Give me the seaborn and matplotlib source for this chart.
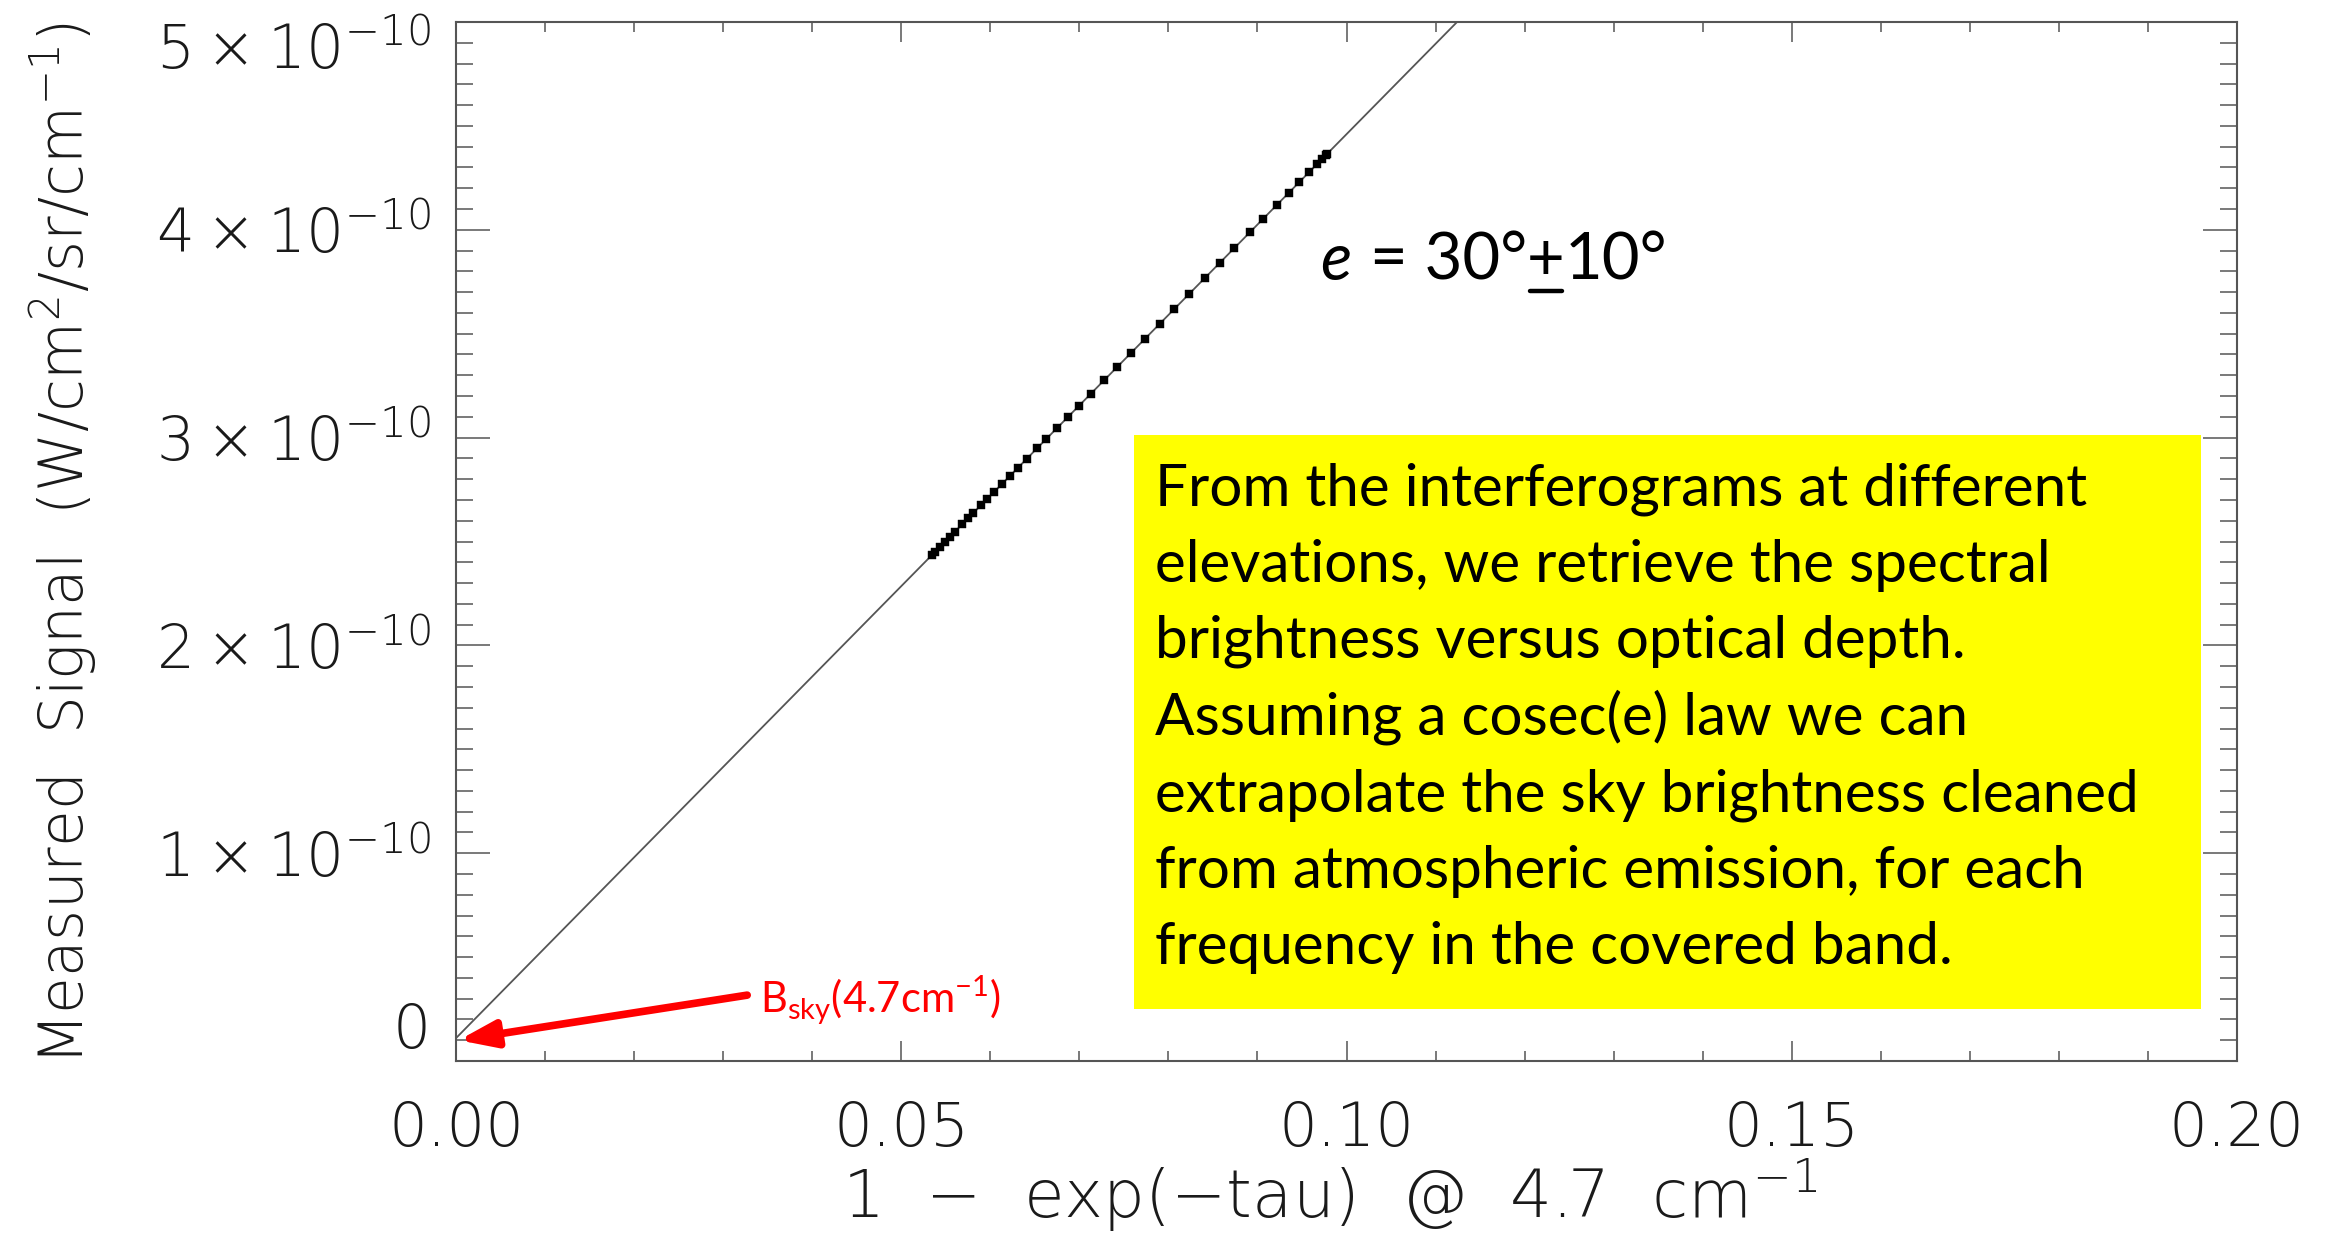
import numpy as np
import pandas as pd
import matplotlib
matplotlib.use("Agg")
import matplotlib.pyplot as plt
import seaborn as sns
from matplotlib.ticker import MultipleLocator, FixedLocator, FixedFormatter
from matplotlib.patches import Rectangle
from matplotlib.lines import Line2D

# ---------------- data ----------------
opacity = [0.09781, 0.09770, 0.09725, 0.09669, 0.09579, 0.09467, 0.09354, 0.09220,
           0.09062, 0.08916, 0.08737, 0.08579, 0.08411, 0.08231, 0.08063, 0.07906,
           0.07737, 0.07580, 0.07423, 0.07277, 0.07131, 0.06996, 0.06873, 0.06749,
           0.06625, 0.06524, 0.06412, 0.06311, 0.06221, 0.06131, 0.06042, 0.05963,
           0.05896, 0.05806, 0.05750, 0.05682, 0.05604, 0.05547, 0.05491, 0.05435,
           0.05379, 0.05345]
signal_e10 = [4.365, 4.360, 4.340, 4.316, 4.277, 4.228, 4.179, 4.121,
              4.052, 3.988, 3.911, 3.842, 3.769, 3.690, 3.617, 3.549,
              3.476, 3.407, 3.339, 3.275, 3.212, 3.153, 3.100, 3.046,
              2.992, 2.948, 2.899, 2.855, 2.816, 2.777, 2.738, 2.704,
              2.675, 2.636, 2.611, 2.582, 2.548, 2.523, 2.499, 2.474,
              2.450, 2.435]
fit_x = [0.0, 0.2]
fit_y_e10 = [0.11, 8.81]

xtick_vals = [0.00, 0.05, 0.10, 0.15, 0.20]
xtick_labels = ["0.00", "0.05", "0.10", "0.15", "0.20"]
ytick_vals = [0, 1e-10, 2e-10, 3e-10, 4e-10, 5e-10]
ytick_labels = ["0",
                "1\u2009×\u200910$^{\\mathregular{-10}}$",
                "2\u2009×\u200910$^{\\mathregular{-10}}$",
                "3\u2009×\u200910$^{\\mathregular{-10}}$",
                "4\u2009×\u200910$^{\\mathregular{-10}}$",
                "5\u2009×\u200910$^{\\mathregular{-10}}$"]

box_lines = ["From the interferograms at different",
             "elevations, we retrieve the spectral",
             "brightness versus optical depth.",
             "Assuming a cosec(e) law we can",
             "extrapolate the sky brightness cleaned",
             "from atmospheric emission, for each",
             "frequency in the covered band."]

pts = pd.DataFrame({"x": opacity, "y": np.array(signal_e10) * 1e-10})
fit = pd.DataFrame({"x": fit_x, "y": np.array(fit_y_e10) * 1e-10})

# ---------------- style ----------------
sns.set_theme(style="white")
plt.rcParams["font.family"] = ["DejaVu Sans"]
plt.rcParams["font.weight"] = "light"
plt.rcParams["axes.labelweight"] = "light"
plt.rcParams["axes.unicode_minus"] = True

W, H = 2343, 1239
fig = plt.figure(figsize=(W / 100, H / 100), dpi=100)
L, R, T, B = 456, 2237, 22, 1061
ax = fig.add_axes([L / W, 1 - B / H, (R - L) / W, (B - T) / H])

sns.lineplot(data=fit, x="x", y="y", ax=ax, color="#555555", lw=1.3, zorder=2)
sns.scatterplot(data=pts, x="x", y="y", ax=ax, marker="s", s=32, color="black",
                edgecolor="black", linewidth=0.3, zorder=3)

ax.set_xlim(0, 0.2)
ax.set_ylim(0, 5e-10)

txtcol = "#1a1a1a"
ax.xaxis.set_major_locator(FixedLocator(xtick_vals))
ax.xaxis.set_major_formatter(FixedFormatter(xtick_labels))
ax.xaxis.set_minor_locator(MultipleLocator(0.01))
ax.yaxis.set_major_locator(FixedLocator(ytick_vals))
ax.yaxis.set_major_formatter(FixedFormatter(ytick_labels))
ax.yaxis.set_minor_locator(MultipleLocator(1e-11))

ax.tick_params(which="both", direction="in", top=True, right=True, bottom=True, left=True,
               color="#555555", width=1.1, labelcolor=txtcol)
ax.tick_params(axis="x", which="major", length=14.4, pad=28, labelsize=44)
ax.tick_params(axis="x", which="minor", length=7.2)
ax.tick_params(axis="y", which="major", length=24.5, pad=18, labelsize=43)
ax.tick_params(axis="y", which="minor", length=12)

for s in ax.spines.values():
    s.set_color("#555555")
    s.set_linewidth(1.5)

ylabs = ax.get_yticklabels()
ylabs[0].set_va("bottom")
ylabs[-1].set_va("top")

ax.set_xlabel(r"1  −  exp(−tau)  @  4.7  cm$^{\mathregular{-1}}$", fontsize=47.5,
              color=txtcol, weight="light")
ax.set_ylabel(r"Measured  Signal  (W/cm$^{\mathregular{2}}$/sr/cm$^{\mathregular{-1}}$)",
              fontsize=43, color=txtcol, weight="light")
ax.yaxis.set_label_coords(63 / W, 1 - 543 / H, transform=fig.transFigure)
ax.xaxis.set_label_coords(1330 / W, 1 - 1195 / H, transform=fig.transFigure)
ax.xaxis.label.set_va("center")
ax.yaxis.label.set_va("center")

# yellow box
fig.patches.append(Rectangle((1134 / W, 1 - 1009 / H), (2201 - 1134) / W, (1009 - 435) / H,
                             transform=fig.transFigure, facecolor="#FFFF00",
                             edgecolor="none", zorder=5))
for i, line in enumerate(box_lines):
    fig.text(1155 / W, 1 - (505 + i * 76.5) / H, line, fontsize=42,
             family=["Lato", "DejaVu Sans"], weight="normal", color="black",
             va="baseline", ha="left", zorder=6)

# e = 30° +(underlined) 10°
lato = ["Lato", "DejaVu Sans"]
base_y = 1 - 280 / H
fig.text(1320 / W, base_y, "e", fontsize=47, family=lato,
         style="italic", weight="normal", color="black", va="baseline", ha="left")
t1 = fig.text(1370 / W, base_y, "= 30°", fontsize=47, family=lato,
              weight="normal", color="black", va="baseline", ha="left")
fig.canvas.draw()
rend = fig.canvas.get_renderer()
bb1 = t1.get_window_extent(rend)
t2 = fig.text(bb1.x1 / W, base_y, "+", fontsize=47, family=lato,
              weight="normal", color="black", va="baseline", ha="left")
bb2 = t2.get_window_extent(rend)
fig.lines.append(Line2D([(bb2.x0 + 3) / W, (bb2.x1 - 3) / W], [1 - 291 / H, 1 - 291 / H],
                        transform=fig.transFigure, color="black", lw=3.2))
fig.text(bb2.x1 / W, base_y, "10°", fontsize=47, family=lato,
         weight="normal", color="black", va="baseline", ha="left")

# red annotation
ax.annotate("", xy=(0.0003, 1.0e-11), xytext=(0.0327, 3.17e-11),
            arrowprops=dict(arrowstyle="-|>,head_length=0.55,head_width=0.2",
                            color="red", lw=5.5, mutation_scale=40,
                            shrinkA=0, shrinkB=0), zorder=4)
fig.text(760 / W, 1 - 1013 / H, r"B$_{\mathregular{sky}}$(4.7cm$^{\mathregular{-1}}$)",
         fontsize=30, family=lato, weight="normal",
         color="red", va="baseline", ha="left")

fig.savefig("out.png", dpi=100)
